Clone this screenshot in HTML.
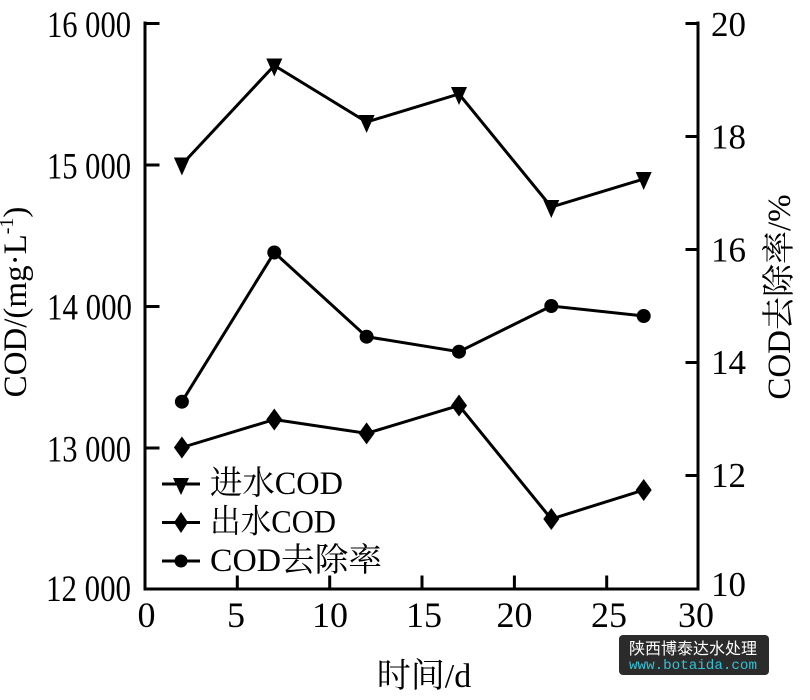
<!DOCTYPE html>
<html>
<head>
<meta charset="utf-8">
<style>
html,body{margin:0;padding:0;background:#fff;}
body{width:810px;height:700px;overflow:hidden;}
svg{display:block;}
.t{font-family:"Liberation Serif","Noto Serif CJK SC","Noto Sans CJK SC",serif;fill:#000;}
</style>
</head>
<body>
<svg width="810" height="700" viewBox="0 0 810 700" xmlns="http://www.w3.org/2000/svg">
<rect width="810" height="700" fill="#fff"/>

<!-- axes -->
<g stroke="#000" stroke-width="3" fill="none" stroke-linecap="square">
  <line x1="145" y1="23" x2="145" y2="589"/>
  <line x1="145" y1="589" x2="698" y2="589"/>
  <line x1="698" y1="23" x2="698" y2="589"/>
  <!-- left ticks -->
  <line x1="145" y1="23.5" x2="158" y2="23.5"/>
  <line x1="145" y1="165" x2="158" y2="165"/>
  <line x1="145" y1="306.5" x2="158" y2="306.5"/>
  <line x1="145" y1="448" x2="158" y2="448"/>
  <!-- right ticks -->
  <line x1="687" y1="23.5" x2="698" y2="23.5"/>
  <line x1="687" y1="136.5" x2="698" y2="136.5"/>
  <line x1="687" y1="249.5" x2="698" y2="249.5"/>
  <line x1="687" y1="362.5" x2="698" y2="362.5"/>
  <line x1="687" y1="475.5" x2="698" y2="475.5"/>
  <!-- x ticks -->
  <line x1="237.3" y1="577" x2="237.3" y2="589"/>
  <line x1="329.7" y1="577" x2="329.7" y2="589"/>
  <line x1="422" y1="577" x2="422" y2="589"/>
  <line x1="514.4" y1="577" x2="514.4" y2="589"/>
  <line x1="606.7" y1="577" x2="606.7" y2="589"/>
</g>

<!-- left tick labels -->
<g class="t" font-size="37" text-anchor="end">
  <text x="131" y="37" textLength="84" lengthAdjust="spacingAndGlyphs">16 000</text>
  <text x="131" y="178.5" textLength="84" lengthAdjust="spacingAndGlyphs">15 000</text>
  <text x="132" y="319.5" textLength="85" lengthAdjust="spacingAndGlyphs">14 000</text>
  <text x="131" y="461.5" textLength="84" lengthAdjust="spacingAndGlyphs">13 000</text>
  <text x="131" y="601" textLength="85" lengthAdjust="spacingAndGlyphs">12 000</text>
</g>

<!-- right tick labels -->
<g class="t" font-size="35" text-anchor="start">
  <text x="711" y="36">20</text>
  <text x="711" y="148.5">18</text>
  <text x="711" y="261.5">16</text>
  <text x="711" y="374">14</text>
  <text x="711" y="487">12</text>
  <text x="711" y="596">10</text>
</g>

<!-- x tick labels -->
<g class="t" font-size="36" text-anchor="middle">
  <text x="146.5" y="627">0</text>
  <text x="236" y="627">5</text>
  <text x="330" y="627">10</text>
  <text x="424" y="627">15</text>
  <text x="514.5" y="627">20</text>
  <text x="609" y="627">25</text>
  <text x="696" y="627">30</text>
</g>

<!-- axis titles -->
<text class="t" font-size="33" text-anchor="middle" transform="translate(26,302) rotate(-90)">COD/(mg·L<tspan font-size="20" dy="-13">-1</tspan><tspan dy="13">)</tspan></text>
<text class="t" font-size="33" text-anchor="middle" transform="translate(790,297) rotate(-90)">COD去除率/%</text>
<text class="t" font-size="34" text-anchor="middle" x="424" y="687">时间/d</text>

<!-- series lines -->
<g stroke="#000" stroke-width="3" fill="none" stroke-linejoin="miter">
  <polyline points="181.9,164.5 274.3,65.5 366.6,122 459,94 551.3,207 643.7,179"/>
  <polyline points="181.9,447.5 274.3,419.5 366.6,433.4 459,405.5 551.3,519 643.7,490"/>
  <polyline points="181.9,401.7 274.3,252.5 366.6,336.7 459,351.7 551.3,306 643.7,316"/>
</g>

<!-- triangle markers (inverted) -->
<g fill="#000">
  <polygon points="173.9,157.5 189.9,157.5 181.9,175.5"/>
  <polygon points="266.3,58.5 282.3,58.5 274.3,76.5"/>
  <polygon points="358.6,115 374.6,115 366.6,133"/>
  <polygon points="451,87 467,87 459,105"/>
  <polygon points="543.3,200 559.3,200 551.3,218"/>
  <polygon points="635.7,172 651.7,172 643.7,190"/>
</g>

<!-- diamond markers -->
<g fill="#000">
  <polygon points="181.9,436.5 189.9,447.5 181.9,458.5 173.9,447.5"/>
  <polygon points="274.3,408.5 282.3,419.5 274.3,430.5 266.3,419.5"/>
  <polygon points="366.6,422.4 374.6,433.4 366.6,444.4 358.6,433.4"/>
  <polygon points="459,394.5 467,405.5 459,416.5 451,405.5"/>
  <polygon points="551.3,508 559.3,519 551.3,530 543.3,519"/>
  <polygon points="643.7,479 651.7,490 643.7,501 635.7,490"/>
</g>

<!-- circle markers -->
<g fill="#000">
  <circle cx="181.9" cy="401.7" r="7"/>
  <circle cx="274.3" cy="252.5" r="7"/>
  <circle cx="366.6" cy="336.7" r="7"/>
  <circle cx="459" cy="351.7" r="7"/>
  <circle cx="551.3" cy="306" r="7"/>
  <circle cx="643.7" cy="316" r="7"/>
</g>

<!-- legend -->
<g stroke="#000" stroke-width="3">
  <line x1="162" y1="484" x2="200" y2="484"/>
  <line x1="162" y1="522.5" x2="200" y2="522.5"/>
  <line x1="162" y1="561" x2="200" y2="561"/>
</g>
<g fill="#000">
  <polygon points="173,478 189,478 181,495"/>
  <polygon points="181,512 188,522.5 181,533 174,522.5"/>
  <circle cx="181" cy="561" r="6.5"/>
</g>
<g class="t" font-size="33">
  <text x="210" y="494" textLength="133" lengthAdjust="spacingAndGlyphs">进水COD</text>
  <text x="210" y="532.5" textLength="126" lengthAdjust="spacingAndGlyphs">出水COD</text>
  <text x="210" y="571" textLength="172" lengthAdjust="spacingAndGlyphs">COD去除率</text>
</g>

<!-- watermark -->
<rect x="619" y="635" width="150" height="40" rx="4" ry="4" fill="#2b2b2b"/>
<text x="693" y="654" text-anchor="middle" font-size="16" fill="#ffffff" font-family="'Noto Sans CJK SC','WenQuanYi Zen Hei',sans-serif" textLength="128" lengthAdjust="spacingAndGlyphs">陕西博泰达水处理</text>
<text x="693" y="669" text-anchor="middle" font-size="14.2" fill="#2fc4d6" font-family="'Liberation Mono','DejaVu Sans Mono',monospace" textLength="128" lengthAdjust="spacingAndGlyphs">www.botaida.com</text>
</svg>
</body>
</html>
